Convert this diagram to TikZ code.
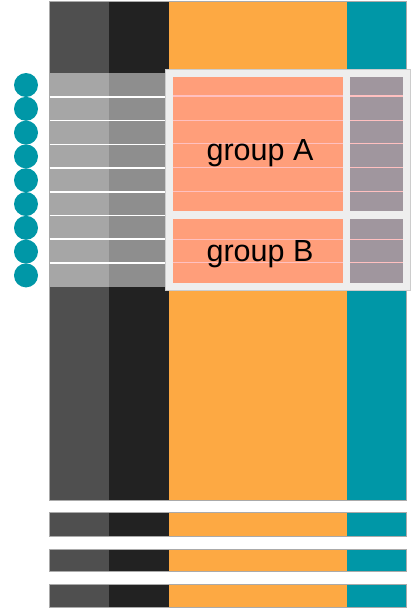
\documentclass[tikz,border=0pt]{standalone}
\usepackage{fontspec}
\setmainfont{Liberation Sans}
\definecolor{cdark}{HTML}{4F4F4F}
\definecolor{cblack}{HTML}{222222}
\definecolor{corange}{HTML}{FDA943}
\definecolor{cteal}{HTML}{0097A7}
\definecolor{csalmon}{HTML}{FF9E7A}
\definecolor{cmauve}{HTML}{A0969E}
\definecolor{clg}{HTML}{A6A6A6}
\definecolor{cmg}{HTML}{8E8E8E}
\definecolor{cpink}{HTML}{FFC0C0}
\definecolor{cbox}{HTML}{EEEEEE}
\definecolor{cboxline}{HTML}{CCCCCC}
\definecolor{cedge}{HTML}{AAAAAA}
\tikzset{
  cell/.style={inner sep=0pt, outer sep=0pt},
  dot/.style={circle, fill=cteal, minimum size=24pt, inner sep=0pt},
  grouplabel/.style={font=\fontsize{30.5}{32}\selectfont, anchor=base, inner sep=0pt},
}
\newcommand{\strip}[3]{%
  \fill[cdark] (49.5,#1) rectangle (109,#2);
  \fill[cblack] (109,#1) rectangle (169,#2);
  \fill[corange] (169,#1) rectangle (347,#2);
  \fill[cteal] (347,#1) rectangle (406.7,#2);
  \draw[cedge, line width=0.8pt] (49.5,#1) rectangle (406.7,#2);
}
\begin{document}
\begin{tikzpicture}[x=1pt, y=-1pt]
\useasboundingbox (0,0) rectangle (415,611);
% main block and strips
\strip{1.5}{500}{main}
\strip{512.7}{536}{s1}
\strip{549}{571.7}{s2}
\strip{584.3}{607.7}{s3}
% overlay rows over first two columns
\foreach \i in {0,...,8}{
  \pgfmathsetmacro{\ya}{73.3+23.7*\i}
  \pgfmathsetmacro{\yb}{\ya+23.7}
  \fill[clg] (49.5,\ya) rectangle (109,\yb);
  \fill[cmg] (109,\ya) rectangle (167,\yb);
}
\foreach \i in {1,...,8}{
  \pgfmathsetmacro{\ya}{73.3+23.7*\i}
  \draw[white, line width=1.5pt] (49.5,\ya) -- (167,\ya);
}
% dots
\foreach \i in {1,...,9}{
  \node[dot] (d\i) at (26,{61.2+23.8*\i}) {};
}
% big box
\draw[cboxline, fill=cbox, line width=0.8pt] (165,69.3) rectangle (410,290.7);
\fill[csalmon] (172.7,76.7) rectangle (343.3,211);
\fill[csalmon] (172.7,219.3) rectangle (343.3,283.3);
\fill[cmauve] (350.3,76.7) rectangle (403.3,211);
\fill[cmauve] (350.3,219.3) rectangle (403.3,283.3);
\foreach \y in {96,120.7,143.3,167.7,191.7,239.3,262.7}{
  \draw[cpink, line width=1.4pt] (172.7,\y) -- (343.3,\y);
  \draw[cpink, line width=1.4pt] (350.3,\y) -- (403.3,\y);
}
\node[grouplabel] (ga) at (260,160) {group A};
\node[grouplabel] (gb) at (260,261) {group B};
\end{tikzpicture}
\end{document}
